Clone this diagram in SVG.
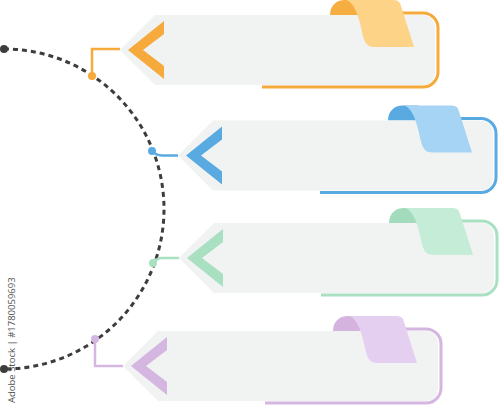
<svg xmlns="http://www.w3.org/2000/svg" width="500" height="405" viewBox="0 0 500 405">
<style>
.panel{fill:#f1f2f2}
.ol{fill:none;stroke-width:3;stroke:var(--c)}
.chev{fill:var(--c)}
.tagd{fill:var(--d)}
.tagl{fill:var(--l)}
.conn{fill:none;stroke-width:2.5;stroke:var(--c)}
.dot{fill:var(--c)}
.arc{fill:none;stroke:#3d3d3d;stroke-width:3;stroke-dasharray:5 4}
.o{--c:#f6aa3b;--d:#f6ae42;--l:#fdd387}
.b{--c:#5aaae2;--d:#5aaae2;--l:#a6d4f4}
.g{--c:#a9e0c2;--d:#a3dcbc;--l:#c5ecd6}
.p{--c:#d5b6e0;--d:#d4b4df;--l:#e5cff0}
.wm{font-family:"Open Sans","Liberation Sans",sans-serif;font-size:9.5px;fill:#555}
</style>
<defs>
<g id="card">
<path class="tagd" d="M210 -35 C210 -44 216 -50 225 -50 H240 V-35 Z"/>
<path class="ol" d="M142 37 H303 A15 15 0 0 0 318 22 V-22 A15 15 0 0 0 303 -37 H280"/>
<path class="panel" d="M0 0 L35 -35 H301 Q315 -35 315 -21 V21 Q315 35 301 35 H35 Z"/>
<path class="chev" d="M8 0 L44 -29 V-16 L23 0 L44 16 V29 Z"/>
<path class="tagl" d="M226 -50 H274 Q280 -50 281 -44 L294 -3 H255 C248 -3 245 -6 243 -14 C240 -28 236 -47 226 -50 Z"/>
</g>
</defs>
<g id="connectors">
<path class="arc" d="M4 49 A160 160 0 0 1 4 369"/>
<circle cx="4" cy="49" r="4" fill="#3d3d3d"/>
<circle cx="4" cy="369" r="4" fill="#3d3d3d"/>
<g class="o"><path class="conn" d="M92 76 V49 H120"/><circle class="dot" cx="92" cy="76" r="4"/></g>
<g class="b"><path class="conn" d="M152 151 Q156 155.5 162 155.5 H178"/><circle class="dot" cx="152" cy="151" r="4"/></g>
<g class="g"><path class="conn" d="M153 263 Q157 258 162 258 H179"/><circle class="dot" cx="153" cy="263" r="4"/></g>
<g class="p"><path class="conn" d="M95 339 V366 H123"/><circle class="dot" cx="95" cy="339" r="4"/></g>
</g>
<g id="node-orange" class="o" transform="translate(120,50)"><use href="#card"/></g>
<g id="node-blue" class="b" transform="translate(178,155.5)"><use href="#card"/></g>
<g id="node-green" class="g" transform="translate(179,258)"><use href="#card"/></g>
<g id="node-purple" class="p" transform="translate(123,366)"><use href="#card"/></g>
<text class="wm" transform="translate(15,403) rotate(-90)">Adobe Stock | #1780059693</text>
</svg>
